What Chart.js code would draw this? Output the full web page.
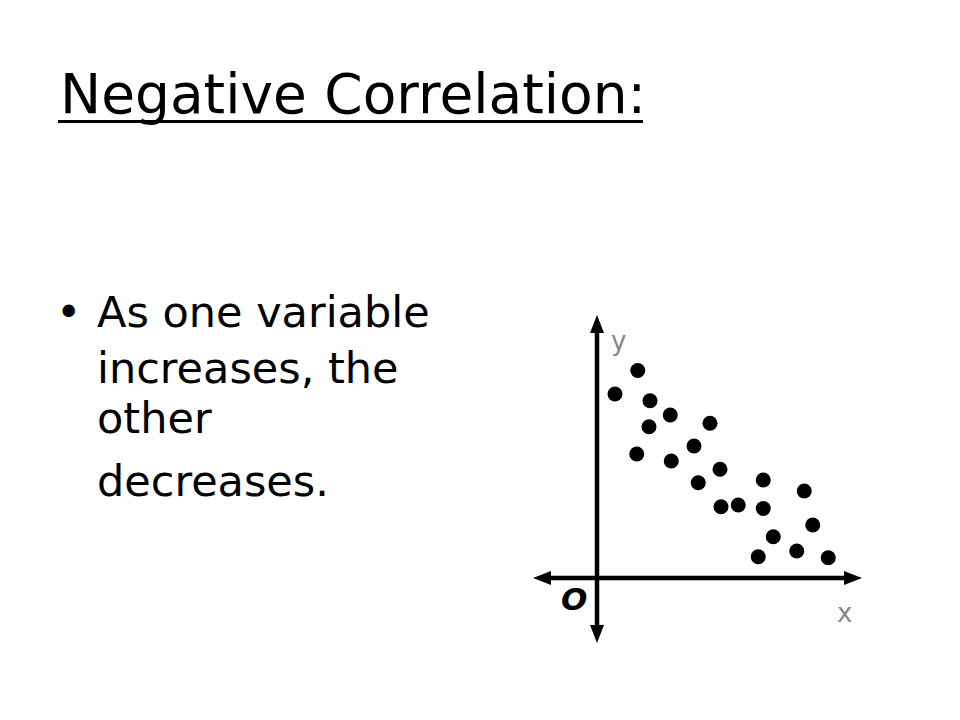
<!DOCTYPE html>
<html>
<head>
<meta charset="utf-8">
<script src="https://cdn.jsdelivr.net/npm/chart.js@4"></script>
<style>
  body { margin: 0; width: 960px; height: 720px; background: #fff; position: relative; overflow: hidden; font-family: "DejaVu Sans", sans-serif; color: #000; }
  .abs { position: absolute; white-space: nowrap; }
  .title { left: 60px; top: 67px; font-size: 55px; line-height: 55px; }
  .rule { left: 58px; top: 120px; width: 585px; height: 3px; background: #000; }
  .line { left: 97px; font-size: 43px; line-height: 43px; }
  .lbl { font-size: 26px; line-height: 26px; color: #888; }
  #chartBox { position: absolute; left: 522px; top: 303px; width: 360px; height: 350px; }
</style>
</head>
<body>
<div class="abs title">Negative Correlation:</div>
<div class="abs rule"></div>

<div class="abs line" style="left:56px; top:291px;">•</div>
<div class="abs line" style="top:291px;">As one variable</div>
<div class="abs line" style="top:347px;">increases, the</div>
<div class="abs line" style="top:397px;">other</div>
<div class="abs line" style="top:460px;">decreases.</div>

<div class="abs lbl" style="left:611px; top:328px;">y</div>
<div class="abs lbl" style="left:837px; top:600px;">x</div>
<div class="abs" style="left:561px; top:584px; font-size:31px; line-height:31px; font-weight:bold; font-style:italic;">O</div>

<div id="chartBox"><canvas id="scatter" width="360" height="350"></canvas></div>

<script>
// point positions (axis units, origin at the arrows' crossing)
const xValues = [0.72, 1.63, 2.12, 2.08, 1.59, 2.93, 2.97, 4.52, 3.88, 4.92, 4.05, 4.96, 5.65, 6.65, 6.65, 7.05, 6.45, 8.29, 8.63, 7.99, 9.25];
const yValues = [7.36, 8.30, 7.09, 6.05, 4.96, 6.52, 4.68, 6.19, 5.28, 4.35, 3.81, 2.85, 2.92, 3.92, 2.78, 1.65, 0.85, 3.48, 2.12, 1.08, 0.81];

// how far the drawn axis arrows reach
const xAxisEnds = [-2.56, 10.6];
const yAxisEnds = [-2.6, 10.52];

// build the point list for the scatter dataset
var points = xValues.map(function (x, i) {
  return { x: x, y: yValues[i] };
});

// draw the hand-drawn style axes with arrowheads through the scales
var arrowAxes = {
  id: "arrowAxes",
  beforeDatasetsDraw: function (chart) {
    var ctx = chart.ctx;
    var xs = chart.scales.x;
    var ys = chart.scales.y;
    var x0 = xs.getPixelForValue(0);
    var y0 = ys.getPixelForValue(0);
    var left = xs.getPixelForValue(xAxisEnds[0]);
    var right = xs.getPixelForValue(xAxisEnds[1]);
    var bottom = ys.getPixelForValue(yAxisEnds[0]);
    var top = ys.getPixelForValue(yAxisEnds[1]);
    var head = 18;
    var half = 7;

    ctx.save();
    ctx.strokeStyle = "#000";
    ctx.fillStyle = "#000";
    ctx.lineWidth = 4.5;

    // the two axis lines
    ctx.beginPath();
    ctx.moveTo(left + head - 2, y0);
    ctx.lineTo(right - head + 2, y0);
    ctx.moveTo(x0, top + head - 2);
    ctx.lineTo(x0, bottom - head + 2);
    ctx.stroke();

    // arrowheads
    function tri(ax, ay, bx, by, cx, cy) {
      ctx.beginPath();
      ctx.moveTo(ax, ay);
      ctx.lineTo(bx, by);
      ctx.lineTo(cx, cy);
      ctx.closePath();
      ctx.fill();
    }
    tri(left, y0, left + head, y0 - half, left + head, y0 + half);
    tri(right, y0, right - head, y0 - half, right - head, y0 + half);
    tri(x0, top, x0 - half, top + head, x0 + half, top + head);
    tri(x0, bottom, x0 - half, bottom - head, x0 + half, bottom - head);
    ctx.restore();
  },
};

var ctx = document.getElementById("scatter").getContext("2d");
var scatterChart = new Chart(ctx, {
  type: "scatter",
  data: {
    datasets: [
      {
        label: "points",
        data: points,
        pointRadius: 7.5,
        pointBackgroundColor: "#000",
        pointBorderWidth: 0,
      },
    ],
  },
  options: {
    responsive: false,
    devicePixelRatio: 1,
    animation: false,
    layout: { padding: 0, autoPadding: false },
    plugins: {
      legend: { display: false },
      tooltip: { enabled: false },
    },
    // axes hidden, fixed ranges so 1 unit = 25px
    scales: {
      x: { type: "linear", min: -3, max: 11.4, display: false },
      y: { type: "linear", min: -3, max: 11, display: false },
    },
  },
  plugins: [arrowAxes],
});
</script>
</body>
</html>
